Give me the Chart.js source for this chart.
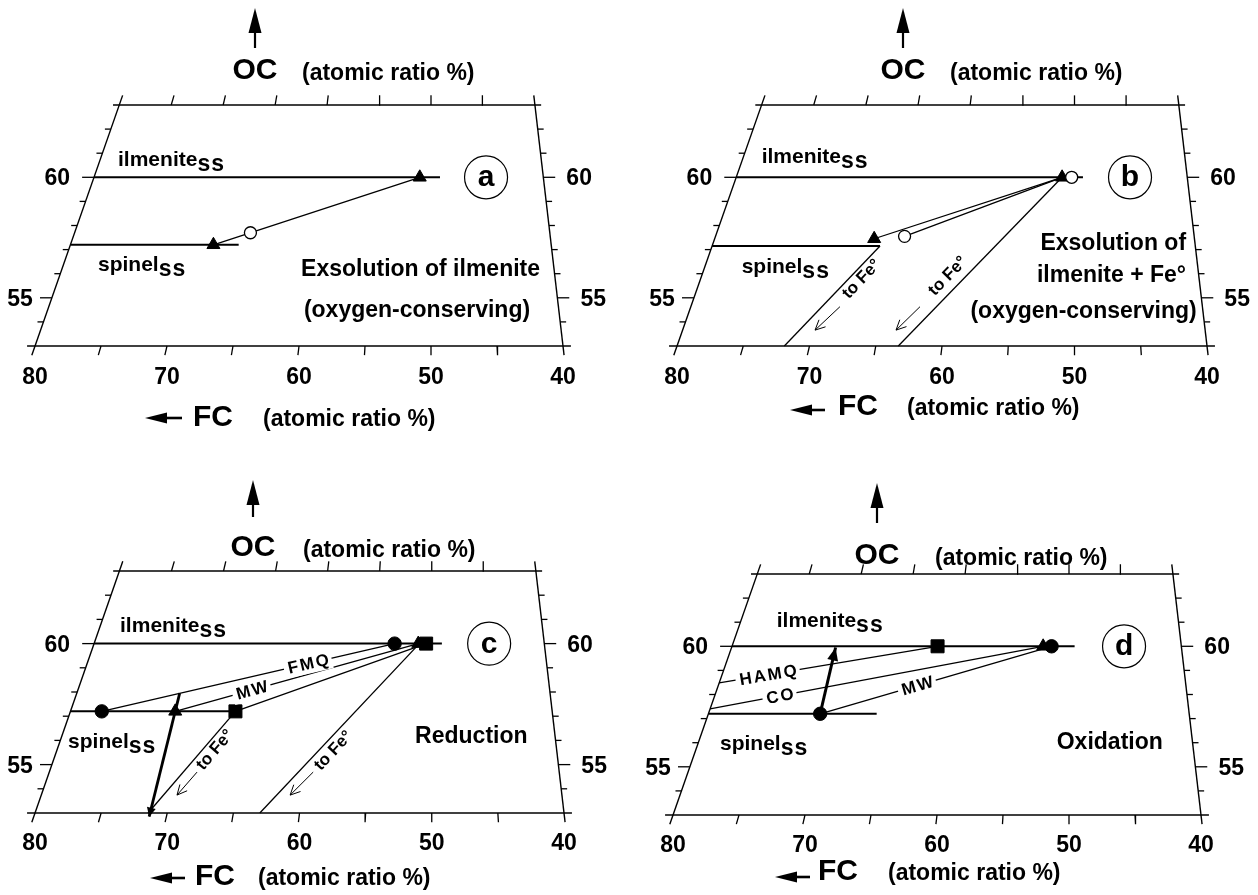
<!DOCTYPE html>
<html>
<head>
<meta charset="utf-8">
<script src="https://cdn.jsdelivr.net/npm/chart.js@4.4.1/dist/chart.umd.min.js"></script>
<style>
html, body { margin: 0; padding: 0; background: #fff; }
#wrap { position: relative; width: 1258px; height: 895px; overflow: hidden; }
canvas { position: absolute; }
</style>
</head>
<body>
<div id="wrap">
  <canvas id="pa" width="629" height="448" style="left:0;top:0;width:629px;height:448px"></canvas>
  <canvas id="pb" width="629" height="448" style="left:629px;top:0;width:629px;height:448px"></canvas>
  <canvas id="pc" width="629" height="447" style="left:0;top:448px;width:629px;height:447px"></canvas>
  <canvas id="pd" width="629" height="447" style="left:629px;top:448px;width:629px;height:447px"></canvas>
</div>
<script>
// axes
const fcTicks = [80, 75, 70, 65, 60, 55, 50, 45, 40];
const fcTickLabels = [80, 70, 60, 50, 40];
const ocTicks = [54, 55, 56, 57, 58, 59, 60, 61, 62];
const ocTickLabels = [55, 60];

// points are [FC, OC] in atomic ratio %
// a : exsolution of ilmenite
const aIlmLine = [[80, 60], [49.2, 60]];
const aSpLine = [[80, 57.2], [66.0, 57.2]];
const aTieLine = [[68.1, 57.2], [51.0, 60]];
const aTriangles = [[51.0, 60], [68.1, 57.2]];
const aOpenCircles = [[65.2, 57.7]];

// b : exsolution of ilmenite + Fe
const bIlmLine = [[80, 60], [49.25, 60]];
const bSpLine = [[80, 57.15], [66.1, 57.15]];
const bTieLines = [[[66.7, 57.45], [51.1, 60]], [[64.2, 57.55], [51.1, 60]]];
const bFeLines = [[[66.1, 57.15], [71.9, 53]], [[51.1, 60], [63.3, 53]]];
const bFeArrows = [[[68.34, 54.63], [69.86, 53.66]], [[62.08, 54.63], [63.66, 53.66]]];
const bTriangles = [[51.1, 60], [66.7, 57.45]];
const bOpenCircles = [[50.25, 60], [64.2, 57.55]];

// c : reduction
const cIlmLine = [[80, 60], [49.1, 60]];
const cSpLine = [[80, 57.2], [66.3, 57.2]];
const cFMQ = [[77.4, 57.2], [53.3, 60]];
const cMW = [[71.3, 57.2], [51.2, 60]];
const cThird = [[66.3, 57.2], [50.5, 60]];
const cFeLines = [[[66.3, 57.2], [71.45, 53]], [[51.1, 60], [63.0, 53]]];
const cFeArrows = [[[68.41, 54.69], [69.57, 53.74]], [[59.30, 54.69], [60.88, 53.74]]];
const cPath = [[71.3, 57.95], [71.3, 52.85]];
const cCircles = [[77.4, 57.2], [53.3, 60]];
const cTriangles = [[71.3, 57.2], [51.2, 60]];
const cSquares = [[66.3, 57.2], [50.5, 60]];

// d : oxidation
const dIlmLine = [[80, 60], [49.5, 60]];
const dSpLine = [[80, 57.2], [66.0, 57.2]];
const dHAMQ = [[80, 58.48], [61.7, 60]];
const dCO = [[80, 57.4], [52.3, 60]];
const dMW = [[70.7, 57.2], [51.55, 60]];
const dPath = [[70.7, 57.2], [70.75, 59.95]];
const dCircles = [[70.7, 57.2], [51.55, 60]];
const dTriangles = [[52.3, 60]];
const dSquares = [[61.7, 60]];

// the FC lines of the diagram converge towards FC 50 / OC 100
const VX = 50, VO = 100, OC0 = 53;
function proj(fc, oc) {
  return { x: VX + (fc - VX) * (VO - oc) / (VO - OC0), y: oc };
}

const font = (s) => 'bold ' + s + 'px "Liberation Sans", Arial, Helvetica, sans-serif';

function seg(xy, width, order) {
  return {
    showLine: true, data: xy, borderColor: '#000', backgroundColor: '#000',
    borderWidth: width, pointRadius: 0, pointHoverRadius: 0, fill: false,
    clip: false, order: order === undefined ? 4 : order, borderCapStyle: 'butt'
  };
}
function line(pts, width, order) {
  return seg(pts.map(p => proj(p[0], p[1])), width, order);
}
function marks(pts, style, r, filled, order) {
  return {
    showLine: false, data: pts.map(p => proj(p[0], p[1])),
    pointStyle: style, pointRadius: r, pointHoverRadius: r,
    backgroundColor: filled ? '#000' : '#fff', borderColor: '#000',
    borderWidth: filled ? 1 : 1.3, clip: false, order: order
  };
}

function frameSets() {
  const s = [];
  s.push(line([[80.6, 53], [39.4, 53]], 1.6, 6));
  s.push(line([[80.6, 63], [39.4, 63]], 1.6, 6));
  s.push(line([[80, 52.62], [80, 63.4]], 1.4, 6));
  s.push(line([[40, 52.62], [40, 63.4]], 1.4, 6));
  fcTicks.slice(1, -1).forEach(f => {
    s.push(line([[f, 53], [f, 52.62]], 1.3, 6));
    s.push(line([[f, 63], [f, 63.4]], 1.3, 6));
  });
  ocTicks.forEach(o => {
    const len = ocTickLabels.includes(o) ? 0.9 : 0.45;
    const l = proj(80, o).x, r = proj(40, o).x;
    s.push(seg([{ x: l, y: o }, { x: l + len, y: o }], 1.3, 6));
    s.push(seg([{ x: r, y: o }, { x: r - len, y: o }], 1.3, 6));
  });
  return s;
}

const panels = [
  {
    id: 'pa',
    layout: { pad: { left: 35, right: 66, top: 105, bottom: 102 }, tickDy: 38,
      ocX: 220, arrowTop: 97, arrowBot: 57, ocBase: 26, ocAtomX: 267,
      fcArrow: [110, 147], fcArrowDy: 72, fcX: 158, fcBase: 80, fcAtomX: 228 },
    sets: [
      line(aIlmLine, 2), line(aSpLine, 2), line(aTieLine, 1.3),
      marks(aTriangles, 'triangle', 7.5, true, 1),
      marks(aOpenCircles, 'circle', 6, false, 0)
    ],
    subs: [['ilmenite', 'ss', 73.71, 60.47], ['spinel', 'ss', 75.23, 56.11]],
    texts: [['Exsolution of ilmenite', 41.74, 55.9, 'right'], ['(oxygen-conserving)', 51.06, 54.2, 'center']],
    letter: ['a', 45.83, 60],
    gapLabels: [], alongLabels: [], openArrows: [], thickArrows: []
  },
  {
    id: 'pb',
    layout: { pad: { left: 48, right: 51, top: 105, bottom: 102 }, tickDy: 38,
      ocX: 226, arrowTop: 97, arrowBot: 57, ocBase: 26, ocAtomX: 273,
      fcArrow: [113, 148], fcArrowDy: 64, fcX: 161, fcBase: 69, fcAtomX: 230 },
    sets: [
      line(bIlmLine, 2), line(bSpLine, 2),
      line(bTieLines[0], 1.3), line(bTieLines[1], 1.3),
      line(bFeLines[0], 1.3), line(bFeLines[1], 1.3),
      line(bFeArrows[0], 1), line(bFeArrows[1], 1),
      marks(bTriangles, 'triangle', 7.5, true, 1),
      marks(bOpenCircles, 'circle', 6, false, 0)
    ],
    subs: [['ilmenite', 'ss', 73.61, 60.61], ['spinel', 'ss', 75.12, 56.03]],
    texts: [['Exsolution of', 41.58, 56.98, 'right'], ['ilmenite + Fe°', 41.58, 55.67, 'right'],
            ['(oxygen-conserving)', 40.78, 54.16, 'right']],
    letter: ['b', 45.81, 60],
    gapLabels: [],
    alongLabels: [['to Fe°', bFeLines[0], 66.06, 55.77], ['to Fe°', bFeLines[1], 59.55, 55.9]],
    openArrows: bFeArrows, thickArrows: []
  },
  {
    id: 'pc',
    layout: { pad: { left: 35, right: 65, top: 123, bottom: 82 }, tickDy: 37,
      ocX: 218, arrowTop: 91, arrowBot: 54, ocBase: 15, ocAtomX: 268,
      fcArrow: [115, 150], fcArrowDy: 65, fcX: 160, fcBase: 72, fcAtomX: 223 },
    sets: [
      line(cIlmLine, 2), line(cSpLine, 2),
      line(cFMQ, 1.3), line(cMW, 1.3), line(cThird, 1.3),
      line(cFeLines[0], 1.3), line(cFeLines[1], 1.3),
      line(cFeArrows[0], 1), line(cFeArrows[1], 1),
      line(cPath, 2.8, 3),
      marks(cCircles, 'circle', 6.7, true, 1),
      marks(cTriangles, 'triangle', 7.5, true, 1),
      marks(cSquares, 'rect', 9.2, true, 0)
    ],
    subs: [['ilmenite', 'ss', 73.57, 60.49], ['spinel', 'ss', 77.5, 55.69]],
    texts: [['Reduction', 51.26, 55.9, 'left']],
    letter: ['c', 45.66, 60],
    gapLabels: [['FMQ', cFMQ, 0.705], ['MW', cMW, 0.316]],
    alongLabels: [['to Fe°', cFeLines[0], 66.38, 55.6], ['to Fe°', cFeLines[1], 57.43, 55.57]],
    openArrows: cFeArrows,
    thickArrows: [[cPath, 9, 4.5]]
  },
  {
    id: 'pd',
    layout: { pad: { left: 44, right: 57, top: 126, bottom: 80 }, tickDy: 37,
      ocX: 204, arrowTop: 91, arrowBot: 51, ocBase: 10, ocAtomX: 262,
      fcArrow: [102, 137], fcArrowDy: 62, fcX: 145, fcBase: 65, fcAtomX: 215 },
    sets: [
      line(dIlmLine, 2), line(dSpLine, 2),
      line(dHAMQ, 1.3), line(dCO, 1.3), line(dMW, 1.3),
      line(dPath, 3, 3),
      marks(dSquares, 'rect', 9.2, true, 1),
      marks(dTriangles, 'triangle', 7.5, true, 1),
      marks(dCircles, 'circle', 6.7, true, 0)
    ],
    subs: [['ilmenite', 'ss', 72.14, 60.81], ['spinel', 'ss', 76.44, 55.7]],
    texts: [['Oxidation', 50.93, 55.73, 'left']],
    letter: ['d', 45.83, 60],
    gapLabels: [['HAMQ', dHAMQ, 0.224], ['CO', dCO, 0.21], ['MW', dMW, 0.42]],
    alongLabels: [], openArrows: [],
    thickArrows: [[dPath, 13, 5.5]]
  }
];

function headFilled(ctx, x1, y1, x2, y2, len, half) {
  const a = Math.atan2(y2 - y1, x2 - x1);
  const bx = x2 - len * Math.cos(a), by = y2 - len * Math.sin(a);
  const nx = -Math.sin(a) * half, ny = Math.cos(a) * half;
  ctx.beginPath();
  ctx.moveTo(x2, y2);
  ctx.lineTo(bx + nx, by + ny);
  ctx.lineTo(bx - nx, by - ny);
  ctx.closePath();
  ctx.fill();
}
function headOpen(ctx, x1, y1, x2, y2, len, ang) {
  const a = Math.atan2(y2 - y1, x2 - x1);
  ctx.beginPath();
  ctx.moveTo(x2 - len * Math.cos(a - ang), y2 - len * Math.sin(a - ang));
  ctx.lineTo(x2, y2);
  ctx.lineTo(x2 - len * Math.cos(a + ang), y2 - len * Math.sin(a + ang));
  ctx.stroke();
}
function upright(x1, y1, x2, y2) {
  let a = Math.atan2(y2 - y1, x2 - x1);
  if (x2 < x1) a += Math.PI;
  return a;
}

function makePlugin(P) {
  return {
    id: 'figure_' + P.id,
    afterDatasetsDraw(chart) {
      const ctx = chart.ctx, xs = chart.scales.x, ys = chart.scales.y;
      const A = chart.chartArea, L = P.layout;
      const X = u => xs.getPixelForValue(u), Y = o => ys.getPixelForValue(o);
      const PP = (p) => { const q = proj(p[0], p[1]); return [X(q.x), Y(q.y)]; };
      ctx.save();
      ctx.fillStyle = '#000';
      ctx.strokeStyle = '#000';
      ctx.textBaseline = 'alphabetic';

      // tick labels
      ctx.font = font(23);
      ctx.textAlign = 'center';
      fcTickLabels.forEach(v => ctx.fillText(String(v), X(v), A.bottom + L.tickDy));
      ocTickLabels.forEach(v => {
        const [lx, ly] = PP([80, v]), [rx, ry] = PP([40, v]);
        ctx.textAlign = 'right';
        ctx.fillText(String(v), lx - (19 + (v - 55)), ly + 8);
        ctx.textAlign = 'left';
        ctx.fillText(String(v), rx + 23, ry + 8);
      });

      // axis titles
      const ox = A.left + L.ocX;
      ctx.lineWidth = 2.2;
      ctx.beginPath();
      ctx.moveTo(ox, A.top - L.arrowBot);
      ctx.lineTo(ox, A.top - L.arrowTop + 15);
      ctx.stroke();
      headFilled(ctx, ox, A.top - L.arrowBot, ox, A.top - L.arrowTop, 25, 6.5);
      ctx.font = font(30);
      ctx.textAlign = 'center';
      ctx.fillText('OC', ox, A.top - L.ocBase);
      ctx.font = font(23);
      ctx.textAlign = 'left';
      ctx.fillText('(atomic ratio %)', A.left + L.ocAtomX, A.top - L.ocBase + 1);

      const fy = A.bottom + L.fcArrowDy;
      ctx.lineWidth = 2.6;
      ctx.beginPath();
      ctx.moveTo(A.left + L.fcArrow[1], fy);
      ctx.lineTo(A.left + L.fcArrow[0] + 12, fy);
      ctx.stroke();
      headFilled(ctx, A.left + L.fcArrow[1], fy, A.left + L.fcArrow[0], fy, 22, 5.5);
      ctx.font = font(30);
      ctx.fillText('FC', A.left + L.fcX, A.bottom + L.fcBase);
      ctx.font = font(23);
      ctx.fillText('(atomic ratio %)', A.left + L.fcAtomX, A.bottom + L.fcBase);

      // arrow heads
      ctx.lineWidth = 1;
      P.openArrows.forEach(ar => {
        const [x1, y1] = PP(ar[0]), [x2, y2] = PP(ar[1]);
        headOpen(ctx, x1, y1, x2, y2, 11, 0.45);
      });
      P.thickArrows.forEach(ar => {
        const [x1, y1] = PP(ar[0][0]), [x2, y2] = PP(ar[0][1]);
        headFilled(ctx, x1, y1, x2, y2, ar[1], ar[2]);
      });

      // labels sitting in gaps of the buffer lines
      P.gapLabels.forEach(g => {
        const [x1, y1] = PP(g[1][0]), [x2, y2] = PP(g[1][1]);
        const x = x1 + (x2 - x1) * g[2], y = y1 + (y2 - y1) * g[2];
        ctx.save();
        ctx.translate(x, y);
        ctx.rotate(upright(x1, y1, x2, y2));
        ctx.font = font(17);
        ctx.letterSpacing = '2px';
        const w = ctx.measureText(g[0]).width;
        ctx.fillStyle = '#fff';
        ctx.fillRect(-w / 2 - 3, -10, w + 5, 20);
        ctx.fillStyle = '#000';
        ctx.textAlign = 'center';
        ctx.textBaseline = 'middle';
        ctx.fillText(g[0], 1, 1);
        ctx.restore();
      });

      // labels parallel to the Fe lines
      P.alongLabels.forEach(g => {
        const [x1, y1] = PP(g[1][0]), [x2, y2] = PP(g[1][1]);
        ctx.save();
        ctx.translate(X(g[2]), Y(g[3]));
        ctx.rotate(upright(x1, y1, x2, y2));
        ctx.font = font(17);
        ctx.textAlign = 'center';
        ctx.textBaseline = 'middle';
        ctx.fillText(g[0], 0, 0);
        ctx.restore();
      });

      // phase names with subscript
      P.subs.forEach(s => {
        const x = X(s[2]), y = Y(s[3]);
        ctx.font = font(21);
        ctx.textAlign = 'left';
        ctx.fillText(s[0], x, y);
        const w = ctx.measureText(s[0]).width;
        ctx.font = font(23);
        ctx.letterSpacing = '1px';
        ctx.fillText(s[1], x + w, y + 5);
        ctx.letterSpacing = '0px';
      });

      // free text
      ctx.font = font(23);
      P.texts.forEach(t => {
        ctx.textAlign = t[3];
        ctx.fillText(t[0], X(t[1]), Y(t[2]));
      });

      // panel letter
      const cx = X(P.letter[1]), cy = Y(P.letter[2]);
      ctx.lineWidth = 1.2;
      ctx.beginPath();
      ctx.arc(cx, cy, 21.5, 0, Math.PI * 2);
      ctx.stroke();
      ctx.font = font(30);
      ctx.textAlign = 'center';
      ctx.fillText(P.letter[0], cx, cy + 9);

      ctx.restore();
    }
  };
}

panels.forEach(P => {
  new Chart(document.getElementById(P.id), {
    type: 'scatter',
    data: { datasets: frameSets().concat(P.sets) },
    options: {
      responsive: false,
      animation: false,
      devicePixelRatio: 1,
      events: [],
      layout: { padding: P.layout.pad },
      scales: {
        x: { type: 'linear', min: 40, max: 80, reverse: true, display: false },
        y: { type: 'linear', min: 53, max: 63, display: false }
      },
      plugins: { legend: { display: false }, tooltip: { enabled: false } }
    },
    plugins: [makePlugin(P)]
  });
});
</script>
</body>
</html>
